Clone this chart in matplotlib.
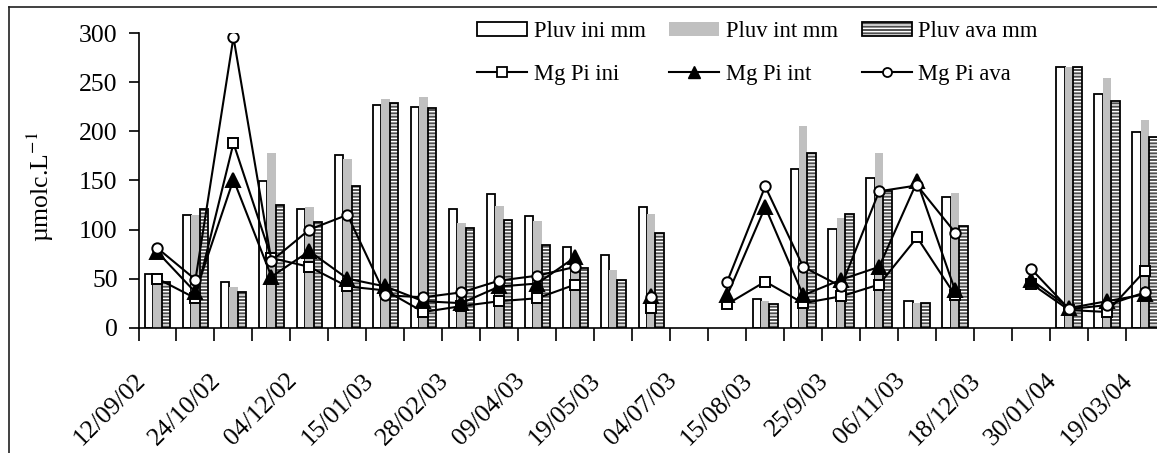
import numpy as np
import matplotlib
matplotlib.use('Agg')
import matplotlib.pyplot as plt
import matplotlib.transforms as mtrans
from matplotlib.lines import Line2D
from matplotlib.patches import Patch
from matplotlib.legend_handler import HandlerTuple

nan = np.nan

# ---- data (27 sampling slots, labels on every other slot) ----
tick_labels = ['12/09/02', '24/10/02', '04/12/02', '15/01/03', '28/02/03', '09/04/03',
               '19/05/03', '04/07/03', '15/08/03', '25/9/03', '06/11/03', '18/12/03',
               '30/01/04', '19/03/04']

pluv_ini = [55, 115, 47, 149, 121, 176, 227, 225, 121, 136, 114, 82, 74, 123, nan, nan,
            29, 162, 101, 153, 27, 133, nan, nan, 266, 238, 199]
pluv_int = [55, 115, 41, 178, 123, 172, 233, 235, 107, 124, 109, 65, 59, 116, nan, nan,
            27, 206, 112, 178, 25, 137, nan, nan, 266, 254, 212]
pluv_ava = [47, 121, 36, 125, 108, 144, 229, 224, 102, 110, 84, 61, 49, 97, nan, nan,
            24, 178, 116, 139, 25, 104, nan, nan, 266, 231, 194]

mg_ini = [50, 30, 188, 71, 62, 42, 38, 16, 22, 27, 30, 44, nan, 20, nan, 24,
          47, 25, 32, 44, 92, 33, nan, 45, 18, 16, 58]
mg_int = [77, 36, 151, 52, 78, 50, 42, 27, 25, 42, 45, 72, nan, 32, nan, 33,
          123, 33, 49, 62, 149, 38, nan, 49, 20, 27, 34]
mg_ava = [81, 49, 296, 68, 100, 115, 33, 31, 36, 48, 53, 62, nan, 31, nan, 47,
          144, 62, 42, 139, 145, 97, nan, 60, 19, 23, 36]

# ---- style ----
plt.rcParams['font.family'] = ['Liberation Serif', 'DejaVu Serif']
plt.rcParams['mathtext.fontset'] = 'stix'
plt.rcParams['hatch.linewidth'] = 1.0
FS = 16.3    # legend
FT = 18.5    # ticks / axis label

W, H = 1157, 453
fig = plt.figure(figsize=(W / 100, H / 100), dpi=100)
fig.patch.set_facecolor('white')

left_px, right_px = 138.5, 1164.0
base_px, top_px = 327.7, 33.3
ax = fig.add_axes([left_px / W, (H - base_px) / H, (right_px - left_px) / W,
                   (base_px - top_px) / H])

n = len(pluv_ini)
x = np.arange(n)
w = 1 / 4.5

ax.bar(x - w, pluv_ini, w, color='white', edgecolor='black', linewidth=1.3, zorder=2)
ax.bar(x, pluv_int, w, color='#c0c0c0', edgecolor='none', linewidth=0, zorder=2)
ax.bar(x + w, pluv_ava, w, color='#505050', edgecolor='white', linewidth=0,
       hatch='-----', zorder=2)
ax.bar(x + w, pluv_ava, w, fill=False, edgecolor='black', linewidth=1.3, zorder=2.1)

lkw = dict(color='black', linewidth=1.5, markersize=7.5, markeredgewidth=1.4, zorder=3)
ax.plot(x, mg_ini, marker='s', markerfacecolor='white', markeredgecolor='black', **lkw)
ax.plot(x, mg_int, marker='^', markerfacecolor='black', markeredgecolor='black',
        **{**lkw, 'markersize': 9.5})
ax.plot(x, mg_ava, marker='o', markerfacecolor='white', markeredgecolor='black', **lkw)

ax.set_xlim(-0.5, n - 0.5)
ax.set_ylim(0, 300)
ax.set_yticks(np.arange(0, 301, 50))
for s in ('top', 'right'):
    ax.spines[s].set_visible(False)
for s in ('left', 'bottom'):
    ax.spines[s].set_linewidth(1.2)
    ax.spines[s].set_color('black')

ax.tick_params(axis='y', direction='out', length=7, width=1.2, pad=8, labelsize=FT)
ax.set_xticks(np.arange(-0.5, n, 1), minor=True)
ax.tick_params(axis='x', which='minor', direction='out', length=9, width=1.2)
ax.set_xticks(np.arange(0, n, 2))
ax.set_xticklabels(tick_labels, rotation=45, ha='right', va='top', fontsize=FT)
ax.tick_params(axis='x', which='major', length=0, pad=30)
off = mtrans.ScaledTranslation(-8 / 100, 0, fig.dpi_scale_trans)
for lab in ax.get_xticklabels():
    lab.set_transform(lab.get_transform() + off)

ax.set_ylabel(r'µmolc.L$^{-1}$', fontsize=FT)
ax.yaxis.set_label_coords((56 - left_px) / (right_px - left_px), 0.48)

# ---- legend ----
h_ini = Patch(facecolor='white', edgecolor='black', linewidth=1.3)
h_int = Patch(facecolor='#c0c0c0', edgecolor='none')
h_ava = (Patch(facecolor='#505050', edgecolor='white', linewidth=0, hatch='-----'),
         Patch(fill=False, edgecolor='black', linewidth=1.3))
l_ini = Line2D([], [], color='black', linewidth=1.5, marker='s', markersize=6.5,
               markerfacecolor='white', markeredgecolor='black', markeredgewidth=1.3)
l_int = Line2D([], [], color='black', linewidth=1.5, marker='^', markersize=8.5,
               markerfacecolor='black', markeredgecolor='black')
l_ava = Line2D([], [], color='black', linewidth=1.5, marker='o', markersize=6.5,
               markerfacecolor='white', markeredgecolor='black', markeredgewidth=1.3)
handles = [h_ini, l_ini, h_int, l_int, h_ava, l_ava]
labels = ['Pluv ini mm', 'Mg Pi ini', 'Pluv int mm', 'Mg Pi int', 'Pluv ava mm', 'Mg Pi ava']
fig.legend(handles, labels, ncol=3, loc='upper left',
           bbox_to_anchor=(477 / W, 1 - 21 / H), bbox_transform=fig.transFigure,
           frameon=False, fontsize=FS, handlelength=2.2, handleheight=0.55,
           handletextpad=0.3, columnspacing=1.05, labelspacing=0.95,
           borderpad=0, borderaxespad=0,
           handler_map={tuple: HandlerTuple(ndivide=1, pad=0)})

# ---- outer chart border (cropped) ----
bx, by = 8.5 / W, 1 - 7 / H
fig.add_artist(Line2D([bx, bx], [-0.1, by], transform=fig.transFigure,
                      color='#202020', linewidth=1.2))
fig.add_artist(Line2D([bx, 1.1], [by, by], transform=fig.transFigure,
                      color='#202020', linewidth=1.2))

fig.savefig('out.png', dpi=100)
